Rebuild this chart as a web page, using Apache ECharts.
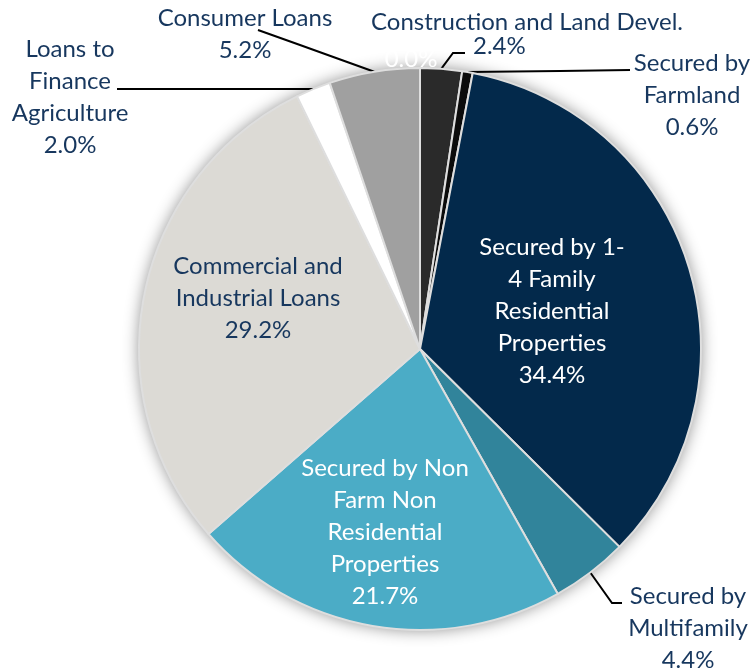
<!DOCTYPE html>
<html>
<head>
<meta charset="utf-8">
<script src="https://cdn.jsdelivr.net/npm/echarts@6/dist/echarts.min.js"></script>
<style>
  html, body { margin: 0; padding: 0; background: #fff; }
  #chart { width: 753px; height: 672px; }
</style>
</head>
<body>
<div id="chart"></div>
<script>
// loan mix, clockwise from 12 o'clock
const categories = [
  'Construction and Land Devel.',
  'Secured by\nFarmland',
  'Secured by 1-\n4 Family\nResidential\nProperties',
  'Secured by\nMultifamily',
  'Secured by Non\nFarm Non\nResidential\nProperties',
  'Commercial and\nIndustrial Loans',
  'Loans to\nFinance\nAgriculture',
  'Consumer Loans',
  'Other'
];
const shares = [2.4, 0.6, 34.4, 4.4, 21.7, 29.2, 2.0, 5.2, 0.0];
const colors = ['#2a2a2a', '#0b0b0b', '#03294b', '#31849b', '#4bacc6', '#dcdad5', '#ffffff', '#a0a0a0', '#ffffff'];

const txt = '#17375e';
const fs = 24;
const cx = 420, cy = 349, R = 281;

// where each label sits (center) and the label line bends
const spots = [
  { x: 527, y: 34, pts: [[453, 53], [465, 53]] },
  { x: 692, y: 95, pts: [[560, 71], [630, 70]] },
  { x: 552, y: 311, inside: true },
  { x: 688, y: 628, pts: [[612, 603], [622, 603]] },
  { x: 385, y: 532, inside: true },
  { x: 258, y: 298, inside: true },
  { x: 70, y: 97, pts: [[200, 89], [117, 89]] },
  { x: 245, y: 34, pts: [[300, 45], [258, 30]] },
  { x: 411, y: 59, zero: true }
];

const total = shares.reduce((a, b) => a + b, 0);
function edgePoint(i) {
  let cum = 0;
  for (let k = 0; k < i; k++) cum += shares[k];
  const ang = (cum + shares[i] / 2) / total * 2 * Math.PI;
  return [cx + R * Math.sin(ang), cy - R * Math.cos(ang)];
}

const pieData = categories.map((name, i) => {
  const s = spots[i];
  const item = { name: name, value: shares[i], itemStyle: { color: colors[i] } };
  if (s.inside || s.zero) {
    item.labelLine = { show: false };
  }
  if (i === 2 || i === 4) item.label = { color: '#ffffff' };
  if (s.zero) item.label = { color: '#ffffff', formatter: '0.0%' };
  if (i === 0) {
    item.label = {
      formatter: '{a|Construction and Land Devel.}\n{b|2.4%}',
      rich: {
        a: { fontFamily: 'Lato', fontSize: fs, color: txt, lineHeight: 24 },
        b: { fontFamily: 'Lato', fontSize: fs, color: txt, lineHeight: 24, align: 'left', padding: [0, 0, 0, 102] }
      }
    };
  }
  return item;
});

const chart = echarts.init(document.getElementById('chart'), null, { renderer: 'canvas' });
chart.setOption({
  backgroundColor: '#ffffff',
  animation: false,
  series: [
    {
      type: 'pie',
      silent: true,
      z: 1,
      center: [cx, cy],
      radius: R,
      label: { show: false },
      labelLine: { show: false },
      itemStyle: { color: '#ffffff', shadowBlur: 16, shadowColor: 'rgba(0,0,0,0.45)' },
      data: [{ value: 1 }]
    },
    {
      type: 'pie',
      z: 2,
      center: [cx, cy],
      radius: R,
      startAngle: 90,
      clockwise: true,
      avoidLabelOverlap: false,
      itemStyle: { borderColor: '#dedede', borderWidth: 2 },
      label: {
        show: true,
        position: 'outside',
        overflow: 'none',
        fontFamily: 'Lato',
        fontSize: fs,
        lineHeight: 32,
        color: txt,
        align: 'center',
        formatter: p => p.name + '\n' + p.value.toFixed(1) + '%'
      },
      labelLine: { show: true, lineStyle: { color: '#000000', width: 2 } },
      labelLayout: function (params) {
        const i = params.dataIndex;
        const s = spots[i];
        const out = { x: s.x, y: s.y, align: 'center', verticalAlign: 'middle', hideOverlap: false };
        if (s.pts) out.labelLinePoints = [edgePoint(i), s.pts[0], s.pts[1]];
        return out;
      },
      data: pieData
    }
  ]
});
</script>
</body>
</html>
